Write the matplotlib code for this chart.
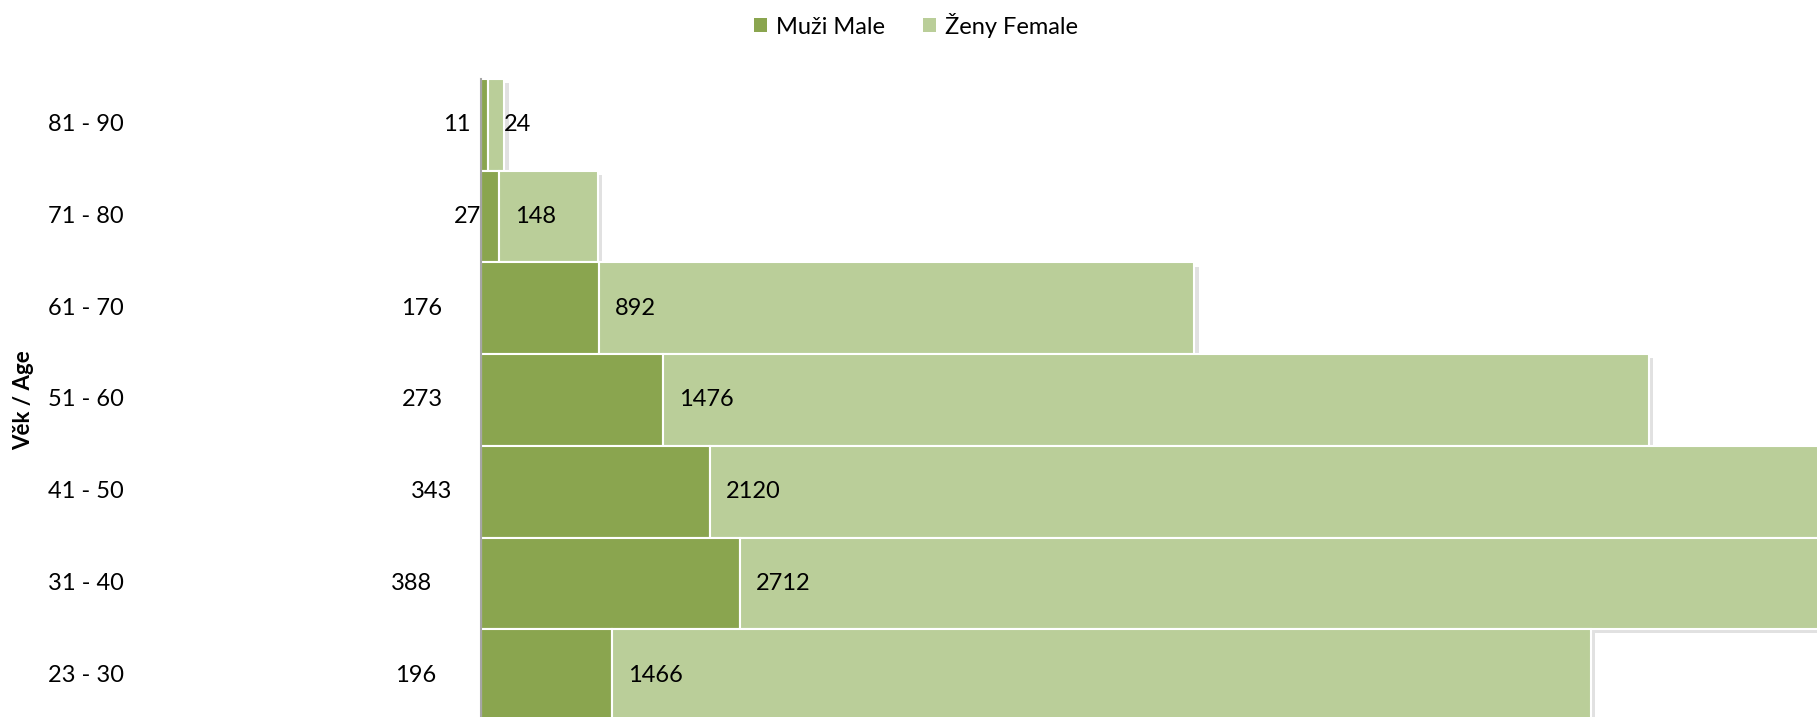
import matplotlib
matplotlib.use("Agg")

import matplotlib.pyplot as plt
import matplotlib.patheffects as pe
import matplotlib.transforms as mtransforms
from matplotlib.patches import Patch

plt.rcParams['font.family'] = ['Lato', 'DejaVu Sans']

# data (bottom row first)
ages = ['23 - 30', '31 - 40', '41 - 50', '51 - 60', '61 - 70', '71 - 80', '81 - 90']
male = [196, 388, 343, 273, 176, 27, 11]
female = [1466, 2712, 2120, 1476, 892, 148, 24]

# label nudges for the male values (pixels left of the axis)
male_dx = [-45, -49, -29, -38, -39, 0, -10]

MALE_C = '#8AA54F'
FEMALE_C = '#BACE99'

W, H = 1817, 717
fig = plt.figure(figsize=(W / 100, H / 100), dpi=100)
ax = fig.add_axes([481 / W, 0, 1336 / W, (H - 79) / H])

shadow = [pe.SimplePatchShadow(offset=(3, -3), shadow_rgbFace='#888888', alpha=0.25), pe.Normal()]

# draw top row first so shadows fall under lower rows
for i in reversed(range(len(ages))):
    ax.barh(i, male[i], height=1.0, color=MALE_C, edgecolor='white', linewidth=1.5,
            path_effects=shadow, zorder=2)
    ax.barh(i, female[i], left=male[i], height=1.0, color=FEMALE_C, edgecolor='white',
            linewidth=1.5, path_effects=shadow, zorder=2)

ax.set_xlim(0, 2000)
ax.set_ylim(-0.457, 6.5)

for sp in ['top', 'right', 'bottom']:
    ax.spines[sp].set_visible(False)
ax.spines['left'].set_color('#a6a6a6')
ax.spines['left'].set_linewidth(1.5)
ax.spines['left'].set_zorder(3)
ax.set_xticks([])
ax.set_yticks([])

for i in range(len(ages)):
    ax.annotate(str(male[i]), xy=(0, i), xytext=(male_dx[i], 0), textcoords='offset pixels',
                ha='right', va='center', fontsize=17, color='black', annotation_clip=False)
    ax.annotate(str(female[i]), xy=(male[i], i), xytext=(16, 0), textcoords='offset pixels',
                ha='left', va='center', fontsize=17, color='black', zorder=4)

trans = mtransforms.blended_transform_factory(fig.transFigure, ax.transData)
for i, a in enumerate(ages):
    ax.text(48 / W, i, a, transform=trans, ha='left', va='center', fontsize=17, clip_on=False)

fig.text(24 / W, 1 - 400 / H, 'Věk / Age', rotation=90, ha='center', va='center',
         fontsize=16, fontweight='bold')

handles = [Patch(facecolor=MALE_C, label='Muži Male'), Patch(facecolor=FEMALE_C, label='Ženy Female')]
fig.legend(handles=handles, loc='center', bbox_to_anchor=(916 / W, 1 - 25 / H), ncol=2,
           frameon=False, fontsize=17, handlelength=0.55, handleheight=0.55,
           handletextpad=0.4, columnspacing=1.6)

fig.savefig('out.png', dpi=100)
